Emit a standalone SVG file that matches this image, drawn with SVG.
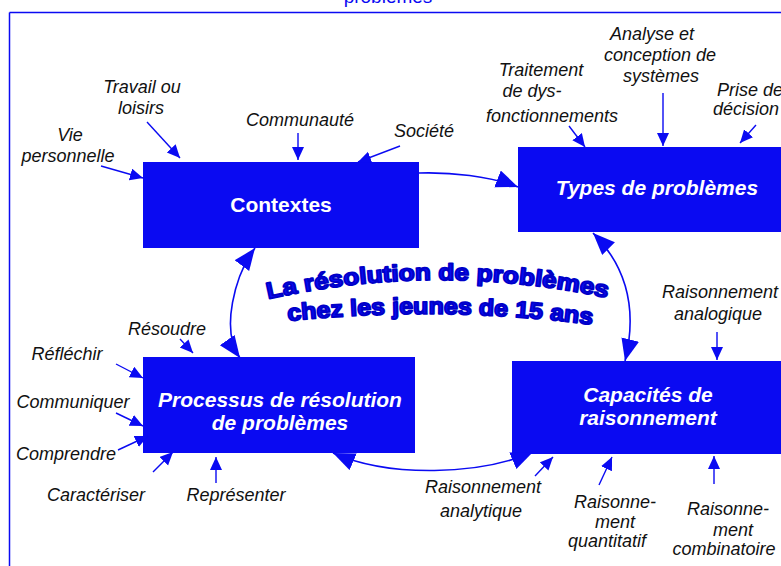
<svg xmlns="http://www.w3.org/2000/svg" width="781" height="566" viewBox="0 0 781 566">
<style>
.box{fill:#0a0af2}
.bl{font-family:"Liberation Sans",Arial,sans-serif;font-weight:bold;font-size:21px;fill:#ffffff;text-anchor:middle}
.it{font-style:italic}
.lb{font-family:"Liberation Sans",Arial,sans-serif;font-style:italic;font-size:18px;fill:#111111;text-anchor:middle}
.st{text-anchor:start}
.arc{fill:none;stroke:#0a0af2;stroke-width:1.6}
.in{fill:none;stroke:#0a0af2;stroke-width:1.4}
.ttl{font-family:"Liberation Sans",Arial,sans-serif;font-weight:bold;font-size:23px;fill:#0a0af2;stroke:#0000c8;stroke-width:1.8;stroke-linejoin:round}
</style>
<defs>
<marker id="big" markerUnits="userSpaceOnUse" markerWidth="24" markerHeight="20" refX="22" refY="9" orient="auto-start-reverse" viewBox="0 0 24 20">
<path d="M0,0 L22,9 L0,18 z" fill="#0a0af2"/>
</marker>
<marker id="sm" markerUnits="userSpaceOnUse" markerWidth="14" markerHeight="13" refX="13" refY="6" orient="auto" viewBox="0 0 14 13">
<path d="M0,0 L13,6 L0,12 z" fill="#0a0af2"/>
</marker>
<path id="t1" d="M 268 299 Q 440 261 612 299"/>
<path id="t2" d="M 288 321 Q 440 305 595 325"/>
</defs>

<g id="frame">
<line x1="9.5" y1="12.5" x2="781" y2="12.5" stroke="#0a0af2" stroke-width="1.5"/>
<line x1="9.5" y1="12.5" x2="9.5" y2="566" stroke="#0a0af2" stroke-width="1.5"/>
<text x="388" y="3" font-family="Liberation Sans, Arial, sans-serif" font-size="19" fill="#0a0af2" text-anchor="middle">problèmes</text>
</g>

<g id="title">
<text class="ttl"><textPath href="#t1" textLength="342" lengthAdjust="spacingAndGlyphs">La résolution de problèmes</textPath></text>
<text class="ttl"><textPath href="#t2" textLength="305" lengthAdjust="spacingAndGlyphs">chez les jeunes de 15 ans</textPath></text>
</g>

<g id="contextes">
<rect class="box" x="143" y="162" width="276" height="86"/>
<text class="bl" x="281" y="212">Contextes</text>
</g>

<g id="types">
<rect class="box" x="518" y="147" width="280" height="85"/>
<text class="bl it" x="657" y="195">Types de problèmes</text>
</g>

<g id="processus">
<rect class="box" x="143" y="357" width="272" height="96"/>
<text class="bl it" x="280" y="407">Processus de résolution</text>
<text class="bl it" x="280" y="430">de problèmes</text>
</g>

<g id="capacites">
<rect class="box" x="512" y="361" width="280" height="93"/>
<text class="bl it" x="648" y="402">Capacités de</text>
<text class="bl it" x="648" y="425">raisonnement</text>
</g>

<g id="connectors">
<path class="arc" d="M 419 173 C 450 172 490 176 518 187" marker-end="url(#big)"/>
<path class="arc" d="M 593 233 C 620 260 640 300 625 361" marker-start="url(#big)" marker-end="url(#big)"/>
<path class="arc" d="M 533 452 C 480 475 390 478 333 453" marker-start="url(#big)" marker-end="url(#big)"/>
<path class="arc" d="M 255 248 C 235 275 220 330 240 358" marker-start="url(#big)" marker-end="url(#big)"/>

<line class="in" x1="101" y1="166" x2="143" y2="178" marker-end="url(#sm)"/>
<line class="in" x1="147" y1="122" x2="180" y2="158" marker-end="url(#sm)"/>
<line class="in" x1="298" y1="133" x2="298" y2="160" marker-end="url(#sm)"/>
<line class="in" x1="400" y1="146" x2="358" y2="162" marker-end="url(#sm)"/>

<line class="in" x1="569" y1="126" x2="585" y2="147" marker-end="url(#sm)"/>
<line class="in" x1="663" y1="93" x2="663" y2="146" marker-end="url(#sm)"/>
<line class="in" x1="756" y1="125" x2="740" y2="143" marker-end="url(#sm)"/>

<line class="in" x1="180" y1="339" x2="193" y2="353" marker-end="url(#sm)"/>
<line class="in" x1="116" y1="364" x2="143" y2="378" marker-end="url(#sm)"/>
<line class="in" x1="116" y1="413" x2="143" y2="426" marker-end="url(#sm)"/>
<line class="in" x1="118" y1="450" x2="148" y2="436" marker-end="url(#sm)"/>
<line class="in" x1="153" y1="472" x2="173" y2="452" marker-end="url(#sm)"/>
<line class="in" x1="216" y1="483" x2="216" y2="457" marker-end="url(#sm)"/>

<line class="in" x1="717" y1="332" x2="717" y2="360" marker-end="url(#sm)"/>
<line class="in" x1="535" y1="476" x2="553" y2="457" marker-end="url(#sm)"/>
<line class="in" x1="599" y1="485" x2="612" y2="457" marker-end="url(#sm)"/>
<line class="in" x1="714" y1="484" x2="714" y2="456" marker-end="url(#sm)"/>
</g>

<g id="labels">
<text class="lb" x="70" y="141">Vie</text>
<text class="lb" x="68" y="162">personnelle</text>
<text class="lb" x="142" y="93">Travail ou</text>
<text class="lb" x="141" y="114">loisirs</text>
<text class="lb" x="300" y="126">Communauté</text>
<text class="lb" x="424" y="137">Société</text>

<text class="lb" x="541" y="76">Traitement</text>
<text class="lb" x="532" y="97">de dys-</text>
<text class="lb" x="552" y="122">fonctionnements</text>
<text class="lb" x="652" y="40">Analyse et</text>
<text class="lb" x="660" y="61">conception de</text>
<text class="lb" x="661" y="82">systèmes</text>
<text class="lb st" x="717" y="96">Prise de</text>
<text class="lb st" x="713" y="115">décision</text>

<text class="lb" x="167" y="335">Résoudre</text>
<text class="lb" x="67" y="360">Réfléchir</text>
<text class="lb" x="73" y="408">Communiquer</text>
<text class="lb" x="66" y="460">Comprendre</text>
<text class="lb" x="96" y="501">Caractériser</text>
<text class="lb" x="236" y="501">Représenter</text>

<text class="lb" x="720" y="298">Raisonnement</text>
<text class="lb" x="718" y="320">analogique</text>
<text class="lb" x="483" y="493">Raisonnement</text>
<text class="lb" x="481" y="517">analytique</text>
<text class="lb" x="615" y="508">Raisonne-</text>
<text class="lb" x="615" y="528">ment</text>
<text class="lb" x="607" y="547">quantitatif</text>
<text class="lb" x="728" y="515">Raisonne-</text>
<text class="lb" x="733" y="536">ment</text>
<text class="lb" x="724" y="555">combinatoire</text>
</g>
</svg>
